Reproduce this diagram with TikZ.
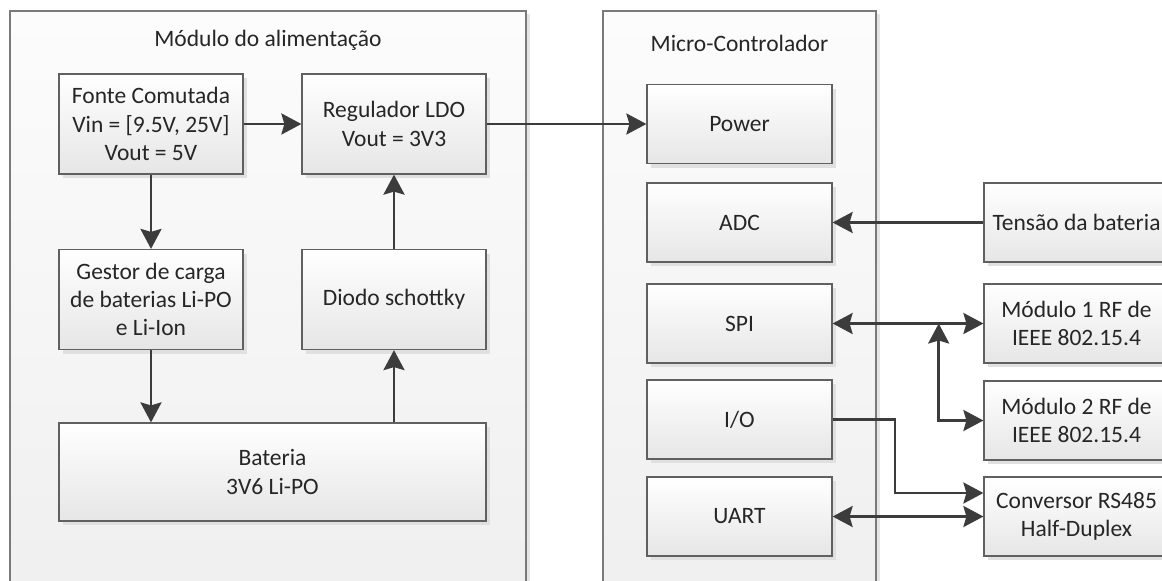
\documentclass[tikz,border=0pt]{standalone}
\usepackage{fontspec}
\setmainfont{Carlito}
\usetikzlibrary{arrows.meta,shadows}

\definecolor{boxedge}{HTML}{606060}
\definecolor{boxbot}{HTML}{E6E6E6}
\definecolor{conttop}{HTML}{FCFCFC}
\definecolor{contbot}{HTML}{EFEFEF}
\definecolor{contedge}{HTML}{7A7A7A}
\definecolor{wire}{HTML}{3C3C3C}
\definecolor{txt}{HTML}{262626}

\tikzset{
  blk/.style={draw=boxedge, line width=1.2pt, top color=white, bottom color=boxbot,
    drop shadow={shadow xshift=4pt, shadow yshift=-4pt, fill=black!12, opacity=1},
    inner sep=0pt, align=center, text=txt,
    font=\fontsize{23.5}{28.4}\selectfont},
  pblk/.style={blk, minimum width=184pt, minimum height=100pt},
  mblk/.style={blk, minimum width=185pt, minimum height=79pt},
  ttl/.style={text=txt, font=\fontsize{23.5}{28.4}\selectfont, inner sep=0pt},
  tip/.tip={Stealth[length=20pt, width=21pt, inset=3pt]},
  arr/.style={draw=wire, line width=2.7pt, -tip},
  darr/.style={draw=wire, line width=2.7pt, tip-tip},
}

\begin{document}
\begin{tikzpicture}[x=1pt, y=-1pt]
\clip (0,0) rectangle (1162,581);
\fill[white] (0,0) rectangle (1162,581);

% power module frame
\fill[black!10] (13,14) rectangle (530,610);
\shadedraw[top color=conttop, bottom color=contbot, draw=contedge, line width=1.3pt]
  (10,11) rectangle (526,610);
\node[ttl] (ttlpwr) at (268,40) {Módulo do alimentação};

% microcontroller frame
\fill[black!10] (606,14) rectangle (880,610);
\shadedraw[top color=conttop, bottom color=contbot, draw=contedge, line width=1.3pt]
  (603,11) rectangle (876,610);
\node[ttl] (ttlmcu) at (739.5,43) {Micro-Controlador};

% power module blocks
\node[pblk] (fonte) at (151,124) {Fonte Comutada\\Vin = [9.5V, 25V]\\Vout = 5V};
\node[pblk] (reg) at (394,124) {Regulador LDO\\Vout = 3V3};
\node[pblk] (gestor) at (151,299.5) {Gestor de carga\\de baterias Li-PO\\e Li-Ion};
\node[pblk] (diodo) at (394,299.5) {Diodo schottky};
\node[blk, minimum width=427pt, minimum height=98pt] (bat) at (272.5,472) {Bateria\\3V6 Li-PO};

% microcontroller peripherals
\node[mblk] (power) at (739.5,124) {Power};
\node[mblk] (adc) at (739.5,222.5) {ADC};
\node[mblk] (spi) at (739.5,323.5) {SPI};
\node[mblk] (io) at (739.5,419.5) {I/O};
\node[mblk] (uart) at (739.5,516.5) {UART};

% external blocks
\node[mblk] (tensao) at (1076.5,222.5) {Tensão da bateria};
\node[mblk] (mod1) at (1076.5,323.5) {Módulo 1 RF de\\IEEE 802.15.4};
\node[mblk] (mod2) at (1076.5,420.5) {Módulo 2 RF de\\IEEE 802.15.4};
\node[mblk] (conv) at (1076.5,516.5) {Conversor RS485\\Half-Duplex};

% power path
\draw[arr] (fonte.east) -- (reg.west);
\draw[arr] (reg.east) -- (power.west);
\draw[arr] (fonte.south) -- (gestor.north);
\draw[arr] (gestor.south) -- (gestor.south |- bat.north);
\draw[arr] (diodo.south |- bat.north) -- (diodo.south);
\draw[arr] (diodo.north) -- (reg.south);

% signal connections
\draw[arr] (tensao.west) -- (adc.east);
\draw[darr] (spi.east) -- (mod1.west);
\coordinate (junc) at (938.7,323.5);
\draw[darr] (junc) |- (mod2.west);
\coordinate (iobend) at (895,493);
\draw[arr] (io.east) -| (iobend) -- (iobend -| conv.west);
\draw[darr] (uart.east) -- (conv.west);
\end{tikzpicture}
\end{document}
